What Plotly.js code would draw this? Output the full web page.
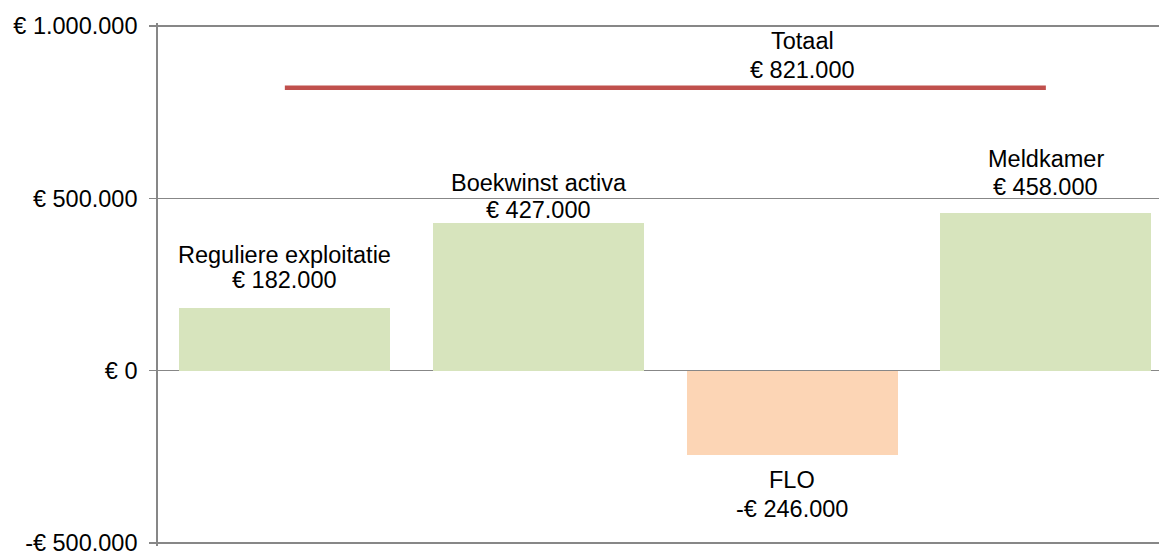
<!DOCTYPE html>
<html>
<head>
<meta charset="utf-8">
<script src="https://cdn.plot.ly/plotly-3.0.1.min.js"></script>
<style>
html,body{margin:0;padding:0;background:#fff;}
#chart{width:1159px;height:551px;}
</style>
</head>
<body>
<div id="chart"></div>
<script>
// ---- data ----
const categories = ["Reguliere exploitatie", "Boekwinst activa", "FLO", "Meldkamer"];
const values = [182000, 427000, -246000, 458000];
const totalLabel = "Totaal";
const totalValue = 821000;
const yTickValues = [-500000, 0, 500000, 1000000];

// ---- style ----
const posColor = "#D7E4BD";
const negColor = "#FCD5B5";
const lineColor = "#C0504D";
const gridColor = "#878787";
const fontFamily = "Arial, 'Liberation Sans', sans-serif";
const fontSize = 23.5;
// pixel offsets of label lines (name, value) relative to the bar end
const labelShifts = [[52.5, 28], [40, 13.5], [-24.8, -53.8], [53.5, 25.5]];
const totalShifts = [47, 18];
const totalXShift = 10;
const padPx = 3;                       // headroom so the edge gridlines are drawn
const plotPx = 517;                    // pixel height between the outer gridlines
const pad = padPx * (yTickValues[yTickValues.length - 1] - yTickValues[0]) / plotPx;

function fmt(v) {
  const s = Math.abs(v).toString().replace(/\B(?=(\d{3})+(?!\d))/g, ".");
  return (v < 0 ? "-" : "") + "€ " + s;
}

const bars = {
  type: "bar",
  x: categories,
  y: values,
  width: 0.832,
  marker: { color: values.map(v => v >= 0 ? posColor : negColor), line: { width: 0 } },
  hoverinfo: "none",
  showlegend: false
};

const totalLine = {
  type: "scatter",
  mode: "lines",
  x: [categories[0], categories[categories.length - 1]],
  y: [totalValue, totalValue],
  line: { color: lineColor, width: 4.5 },
  hoverinfo: "none",
  showlegend: false
};

const annotations = [];
categories.forEach((c, i) => {
  [c, fmt(values[i])].forEach((t, k) => {
    annotations.push({
      x: c, y: values[i], xref: "x", yref: "y",
      text: t, showarrow: false,
      xanchor: "center", yanchor: "middle",
      yshift: labelShifts[i][k],
      font: { family: fontFamily, size: fontSize, color: "#000" }
    });
  });
});
[totalLabel, fmt(totalValue)].forEach((t, k) => {
  annotations.push({
    x: categories[2], y: totalValue, xref: "x", yref: "y",
    text: t, showarrow: false,
    xanchor: "center", yanchor: "middle",
    xshift: totalXShift, yshift: totalShifts[k],
    font: { family: fontFamily, size: fontSize, color: "#000" }
  });
});

const layout = {
  width: 1159, height: 551,
  margin: { l: 158, r: 0, t: 26 - padPx, b: 8 - padPx, pad: 0 },
  paper_bgcolor: "#fff", plot_bgcolor: "#fff",
  font: { family: fontFamily, size: fontSize, color: "#000" },
  xaxis: {
    type: "category",
    range: [-0.5, 3.446],
    showticklabels: false, showgrid: false, zeroline: false, showline: false, ticks: ""
  },
  yaxis: {
    range: [yTickValues[0] - pad, yTickValues[yTickValues.length - 1] + pad],
    tickvals: yTickValues,
    ticktext: yTickValues.map(fmt),
    ticklabeloverflow: "allow",
    ticks: "outside", ticklen: 7, tickcolor: gridColor, tickwidth: 1.4,
    ticklabelstandoff: 7,
    showgrid: true, gridcolor: gridColor, gridwidth: 1.4,
    zeroline: true, zerolinecolor: gridColor, zerolinewidth: 1.4,
    showline: true, linecolor: gridColor, linewidth: 1.8,
    tickfont: { family: fontFamily, size: fontSize, color: "#000" }
  },
  annotations: annotations,
  bargap: 0
};

Plotly.newPlot("chart", [bars, totalLine], layout, { displayModeBar: false, staticPlot: true });
</script>
</body>
</html>
